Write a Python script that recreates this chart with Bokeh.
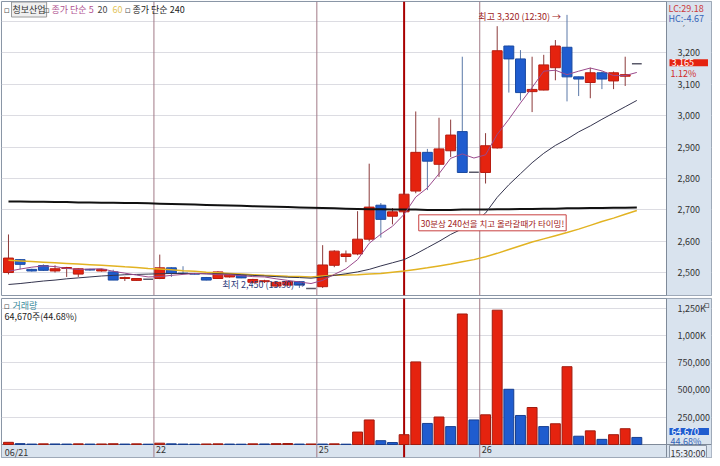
import numpy as np
from bokeh.plotting import figure
from bokeh.models import (Range1d, FixedTicker, NumeralTickFormatter, Span, Label,
                          ColumnDataSource, BoxAnnotation)
from bokeh.layouts import column
from bokeh.embed import file_html
from bokeh.resources import INLINE

# ---------------- data (30-minute candles) ----------------
stock_name = "청보산업"
day_labels = ["06/21", "22", "25", "26"]
slots = ["09:00", "09:30", "10:00", "10:30", "11:00", "11:30", "12:00",
         "12:30", "13:00", "13:30", "14:00", "14:30", "15:00", "15:30"]
day_first_slot = [1, 0, 0, 0]

open_ = [2501, 2542, 2511, 2523, 2506, 2514, 2496, 2511, 2506, 2503, 2482, 2476, 2480,
         2482, 2516, 2499, 2497, 2485, 2482, 2487, 2493, 2470, 2472, 2458, 2461, 2472, 2450,
         2456, 2524, 2552, 2560, 2607, 2715, 2680, 2694, 2760, 2883, 2845, 2888, 2949, 2820,
         2819, 2897, 3221, 3180, 3076, 3081, 3152, 3217, 3123, 3105, 3136, 3110, 3125, 3165]
high = [2622, 2544, 2513, 2527, 2524, 2519, 2514, 2513, 2513, 2510, 2488, 2483, 2480,
        2558, 2518, 2521, 2498, 2487, 2505, 2499, 2495, 2481, 2478, 2472, 2474, 2474, 2450,
        2588, 2572, 2571, 2696, 2847, 2722, 2706, 2758, 3013, 2894, 2993, 2987, 3187, 2820,
        2944, 3284, 3222, 3208, 3187, 3193, 3240, 3320, 3124, 3152, 3140, 3140, 3187, 3165]
low = [2495, 2511, 2504, 2506, 2501, 2487, 2487, 2507, 2504, 2477, 2474, 2475, 2480,
       2480, 2487, 2497, 2495, 2476, 2481, 2485, 2483, 2466, 2468, 2455, 2459, 2452, 2450,
       2452, 2518, 2534, 2556, 2600, 2612, 2654, 2690, 2753, 2763, 2805, 2868, 2819, 2820,
       2784, 2895, 3073, 3048, 3011, 3080, 3112, 3045, 3062, 3055, 3084, 3084, 3094, 3165]
close = [2547, 2527, 2506, 2508, 2513, 2517, 2513, 2509, 2511, 2477, 2485, 2482, 2480,
         2516, 2498, 2498, 2496, 2477, 2503, 2495, 2484, 2479, 2475, 2470, 2472, 2461, 2450,
         2525, 2569, 2560, 2607, 2709, 2670, 2694, 2750, 2883, 2855, 2894, 2938, 2819, 2820,
         2904, 3206, 3180, 3073, 3083, 3161, 3221, 3123, 3116, 3136, 3116, 3136, 3130, 3165]
volume = [20000, 8000, 4000, 6000, 5000, 4000, 6000, 4000, 5000, 7000, 4000, 6000, 3000,
          12000, 6000, 4000, 3000, 5000, 6000, 4000, 3000, 6000, 5000, 8000, 9000, 4000, 5000,
          4000, 6000, 3000, 114000, 225000, 35000, 18000, 90000, 757000, 193000, 252000,
          164000, 1196000, 225000,
          272000, 1231000, 506000, 266000, 339000, 164000, 190000, 713000, 76000, 125000,
          47000, 90000, 144740, 64670]
ma5 = [2505, 2512, 2518, 2522, 2520, 2514, 2511, 2512, 2513, 2505, 2499, 2493, 2487,
       2488, 2492, 2495, 2498, 2497, 2494, 2494, 2491, 2488, 2487, 2481, 2476, 2471, 2466,
       2476, 2495, 2513, 2542, 2594, 2623, 2648, 2686, 2741, 2770, 2815, 2864, 2878, 2865,
       2875, 2940, 2988, 3040, 3089, 3141, 3144, 3130, 3141, 3151, 3142, 3127, 3127, 3137]
ma20 = [2463, 2466, 2470, 2474, 2477, 2481, 2484, 2487, 2490, 2492, 2494, 2495, 2496,
        2497, 2498, 2498, 2498, 2497, 2497, 2496, 2494, 2492, 2490, 2488, 2486, 2485, 2483,
        2487, 2492, 2497, 2503, 2511, 2522, 2532, 2542, 2560, 2580, 2600, 2622, 2640, 2660,
        2690, 2740, 2780, 2815, 2850, 2880, 2905, 2925, 2948, 2967, 2988, 3008, 3028, 3048]
ma60 = [2540, 2538, 2536, 2534, 2532, 2530, 2528, 2526, 2524, 2522, 2519, 2517, 2514,
        2512, 2510, 2507, 2505, 2502, 2500, 2498, 2496, 2494, 2492, 2491, 2489, 2488, 2487,
        2490, 2492, 2493, 2494, 2496, 2498, 2502, 2506, 2511, 2516, 2522, 2528, 2535, 2542,
        2551, 2562, 2574, 2586, 2598, 2608, 2618, 2628, 2639, 2651, 2663, 2674, 2686, 2698]
ma240 = [2727, 2727, 2726, 2726, 2725, 2725, 2724, 2724, 2723, 2723, 2722, 2722, 2721,
         2720, 2719, 2718, 2717, 2716, 2715, 2714, 2713, 2712, 2711, 2710, 2709, 2708, 2707,
         2706, 2705, 2704, 2703, 2702, 2702, 2701, 2701, 2701, 2700, 2700, 2700, 2701, 2701,
         2701, 2702, 2702, 2703, 2703, 2704, 2704, 2705, 2705, 2706, 2706, 2707, 2707, 2708]

price_ticks = [2500, 2600, 2700, 2800, 2900, 3000, 3100, 3200, 3300]
volume_ticks = [250000, 500000, 750000, 1000000, 1250000]
volume_tick_labels = ["250,000", "500,000", "750,000", "1,000K", "1,250K"]
signal_slot = ("25", "12:30")
note_text = "30분상 240선을 치고 올라갈때가 타이밍!"
note_anchor = (35, 2659)

# ---------------- derived ----------------
dates, times = [], []
for d, s0 in zip(day_labels, day_first_slot):
    for t in slots[s0:]:
        dates.append(d)
        times.append(t)
x = np.arange(len(dates))
o, h, l, c = (np.array(a, dtype=float) for a in (open_, high, low, close))
v = np.array(volume, dtype=float)
day_starts = [i for i in range(len(dates)) if i == 0 or dates[i] != dates[i - 1]]
signal_idx = [i for i in range(len(dates)) if (dates[i], times[i]) == signal_slot][0]

# ---------------- layout constants ----------------
FONT = "Noto Sans CJK KR"
RED, RED_EDGE, RED_WICK = "#e5230f", "#b81c10", "#8c3a3a"
BLUE, BLUE_EDGE, BLUE_WICK = "#1f5ccf", "#1a4aa0", "#5a78a8"
AXIS_BG = "#d9e3ee"
AXIS_LINE = "#7f8a99"
W = 712
FRAME_W = W - 2
AXIS_PX = 45
view_start, axis_x = -0.6, 56.55
x_end = axis_x + (axis_x - view_start) * AXIS_PX / (FRAME_W - AXIS_PX)
XR = Range1d(view_start, x_end)

H1, H2 = 296, 161
FH1, FH2 = H1 - 2, H2 - 2
BAND_PX = 13
v_top = 1338000
v_start = -BAND_PX * v_top / (FH2 - BAND_PX)


def style_axis(ax):
    ax.major_label_text_font = FONT
    ax.major_label_text_font_size = "9px"
    ax.major_label_text_color = "#333333"
    ax.axis_line_color = None
    ax.major_tick_line_color = None
    ax.minor_tick_line_color = None
    ax.major_label_standoff = -(AXIS_PX - 5)


def base_fig(height, y_range):
    p = figure(width=W, height=height, x_range=XR, y_range=y_range,
               x_axis_location=None, y_axis_location="right",
               output_backend="svg", toolbar_location=None, tools="",
               min_border_left=1, min_border_right=1, min_border_top=1,
               min_border_bottom=1)
    p.background_fill_color = "white"
    p.border_fill_color = "#eef2f7"
    p.outline_line_color = "#8a96a6"
    p.xgrid.visible = False
    p.ygrid.grid_line_color = "#dcdce2"
    p.add_layout(BoxAnnotation(left=axis_x, fill_color=AXIS_BG, fill_alpha=1.0,
                               line_color=None, level="underlay"))
    return p


def hlabel(p, xx, yy, text, color, **kw):
    p.add_layout(Label(x=xx, y=yy, x_units="screen", y_units="screen", text=text,
                       text_baseline="middle", text_font=kw.pop("font", FONT),
                       text_font_size=kw.pop("size", "9px"), text_color=color, **kw))


# ---------------- price pane ----------------
p1 = base_fig(H1, Range1d(2428, 3362.5))
p1.ygrid.ticker = FixedTicker(ticks=price_ticks)
ax = p1.yaxis[0]
ax.ticker = FixedTicker(ticks=price_ticks)
ax.formatter = NumeralTickFormatter(format="0,0")
style_axis(ax)

for s in day_starts[1:]:
    p1.add_layout(Span(location=s - 0.5, dimension="height", line_color="#a27a86",
                       line_width=1, level="underlay"))
p1.add_layout(Span(location=signal_idx, dimension="height", line_color="#a80000",
                   line_width=2, level="underlay"))
p1.add_layout(Span(location=axis_x, dimension="height", line_color=AXIS_LINE,
                   line_width=1, level="underlay"))

up = c > o
dn = c < o
flat = c == o
for mask, fill, edge, wick in ((up, RED, RED_EDGE, RED_WICK), (dn, BLUE, BLUE_EDGE, BLUE_WICK)):
    src = ColumnDataSource(dict(x=x[mask], top=np.maximum(o, c)[mask],
                                bottom=np.minimum(o, c)[mask], hi=h[mask], lo=l[mask]))
    p1.segment(x0="x", y0="hi", x1="x", y1="lo", source=src, line_color=wick, line_width=1)
    p1.vbar(x="x", width=0.85, top="top", bottom="bottom", source=src,
            fill_color=fill, line_color=edge, line_width=1)
p1.segment(x0=x[flat] - 0.42, y0=c[flat], x1=x[flat] + 0.42, y1=c[flat],
           line_color="#5a5a6a", line_width=1.5)

p1.line(x, ma240, line_color="#111111", line_width=2)
p1.line(x, ma60, line_color="#e2b322", line_width=1.5)
p1.line(x, ma20, line_color="#34344e", line_width=1)
p1.line(x, ma5, line_color="#9a4a8c", line_width=1)

hi_i = int(np.argmax(h))
lo_i = int(np.argmin(l))
p1.add_layout(Label(x=hi_i, y=h[hi_i], text=f"최고 {int(h[hi_i]):,} ({times[hi_i]}) →",
                    text_align="right", text_baseline="middle", x_offset=-6, y_offset=-2,
                    text_font=FONT, text_font_size="9px", text_color="#a02424"))
p1.add_layout(Label(x=lo_i, y=l[lo_i], text=f"최저 {int(l[lo_i]):,} ({times[lo_i]}) →",
                    text_align="right", text_baseline="middle", x_offset=-6, y_offset=4,
                    text_font=FONT, text_font_size="9px", text_color="#2e3a7a"))
p1.add_layout(Label(x=note_anchor[0], y=note_anchor[1], text=note_text,
                    text_align="left", text_baseline="middle", x_offset=3,
                    text_font=FONT, text_font_size="8.5px", text_color="#a01818",
                    background_fill_color="white", border_line_color="#c84040",
                    padding=2))

hy = FH1 - 8
hlabel(p1, 2, hy, "▫", "#555555", font="DejaVu Sans")
hlabel(p1, 10, hy, stock_name, "#333333", background_fill_color="#efefef",
       border_line_color="#9a9a9a", padding=1)
hlabel(p1, 42, hy, "▫", "#555555", font="DejaVu Sans")
hlabel(p1, 50, hy, "종가 단순 5", "#b0508f")
hlabel(p1, 96, hy, "20", "#444444")
hlabel(p1, 111, hy, "60", "#e2c458")
hlabel(p1, 123, hy, "▫", "#555555", font="DejaVu Sans")
hlabel(p1, 131, hy, "종가 단순 240", "#222222")

last = c[-1]
lc = (last - l.min()) / l.min() * 100
hc = (last - h.max()) / h.max() * 100
chg = (last - c[-2]) / c[-2] * 100
ytop = p1.y_range.end
p1.add_layout(Label(x=axis_x, y=ytop, text=f"LC:{lc:.2f}", x_offset=2, y_offset=-7,
                    text_baseline="middle", text_font=FONT, text_font_size="9px",
                    text_color="#cc3a3a", background_fill_color=AXIS_BG))
p1.add_layout(Label(x=axis_x, y=ytop, text=f"HC:{hc:.2f}", x_offset=2, y_offset=-17,
                    text_baseline="middle", text_font=FONT, text_font_size="9px",
                    text_color="#3563b8", background_fill_color=AXIS_BG))
p1.add_layout(Label(x=axis_x, y=last, text=f"{int(last):,}", x_offset=3, y_offset=1,
                    text_baseline="middle", text_font=FONT, text_font_size="9px",
                    text_color="white", background_fill_color="#e5230f",
                    padding=dict(left=2, right=14, top=0, bottom=0)))
p1.add_layout(Label(x=axis_x, y=last, text=f"{chg:.2f}%", x_offset=4, y_offset=-10,
                    text_baseline="middle", text_font=FONT, text_font_size="9px",
                    text_color="#d02a2a"))

# ---------------- volume pane ----------------
p2 = base_fig(H2, Range1d(v_start, v_top))
p2.add_layout(BoxAnnotation(top=0, fill_color=AXIS_BG, fill_alpha=1.0,
                            line_color=None, level="underlay"))
p2.ygrid.ticker = FixedTicker(ticks=volume_ticks)
ax2 = p2.yaxis[0]
ax2.ticker = FixedTicker(ticks=volume_ticks)
ax2.major_label_overrides = {t: s for t, s in zip(volume_ticks, volume_tick_labels)}
style_axis(ax2)

for s in day_starts[1:]:
    p2.add_layout(Span(location=s - 0.5, dimension="height", line_color="#a27a86",
                       line_width=1, level="underlay"))
p2.add_layout(Span(location=signal_idx, dimension="height", line_color="#a80000",
                   line_width=2, level="underlay"))
p2.add_layout(Span(location=axis_x, dimension="height", line_color=AXIS_LINE,
                   line_width=1, level="underlay"))
p2.add_layout(Span(location=0, dimension="width", line_color=AXIS_LINE,
                   line_width=1, level="underlay"))

vol_up = np.r_[True, v[1:] >= v[:-1]]
for mask, fill, edge in ((vol_up, RED, "#a01c10"), (~vol_up, BLUE, "#183f90")):
    p2.vbar(x=x[mask], width=0.85, top=v[mask], bottom=0,
            fill_color=fill, line_color=edge, line_width=1)

hlabel(p2, 2, FH2 - 7, "▫", "#555555", font="DejaVu Sans")
hlabel(p2, 11, FH2 - 7, "거래량", "#3a8c9c")
hlabel(p2, 3, FH2 - 18, f"{int(v[-1]):,}주({v[-1] / v[-2] * 100:.2f}%)", "#222222")
p2.add_layout(Label(x=x_end, y=v_top, text="▫", x_offset=-8, y_offset=-6,
                    text_baseline="middle", text_font="DejaVu Sans",
                    text_font_size="9px", text_color="#333333"))
p2.add_layout(Label(x=axis_x, y=v[-1], text=f"{int(v[-1]):,}", x_offset=3, y_offset=6,
                    text_baseline="middle", text_font=FONT, text_font_size="9px",
                    text_color="white", background_fill_color="#1f5ccf",
                    padding=dict(left=2, right=10, top=0, bottom=0)))
p2.add_layout(Label(x=axis_x, y=v[-1], text=f"{v[-1] / v[-2] * 100:.2f}%", x_offset=4,
                    y_offset=-4, text_baseline="middle", text_font=FONT,
                    text_font_size="9px", text_color="#3563b8"))

for s in day_starts:
    p2.add_layout(Label(x=s - 0.5, y=0, text=dates[s], x_offset=2, y_offset=-1,
                        text_baseline="top", text_font=FONT, text_font_size="9px",
                        text_color="#333333"))
p2.add_layout(Label(x=axis_x, y=0, text=f"{times[-1]}:00", x_offset=3, y_offset=-1,
                    text_baseline="top", text_font=FONT, text_font_size="9px",
                    text_color="#333333", background_fill_color="#e8eef6",
                    border_line_color="#8a96a6", padding=1))

layout = column(p1, p2, spacing=1)
with open("out.html", "w", encoding="utf-8") as f:
    f.write(file_html(layout, INLINE))
